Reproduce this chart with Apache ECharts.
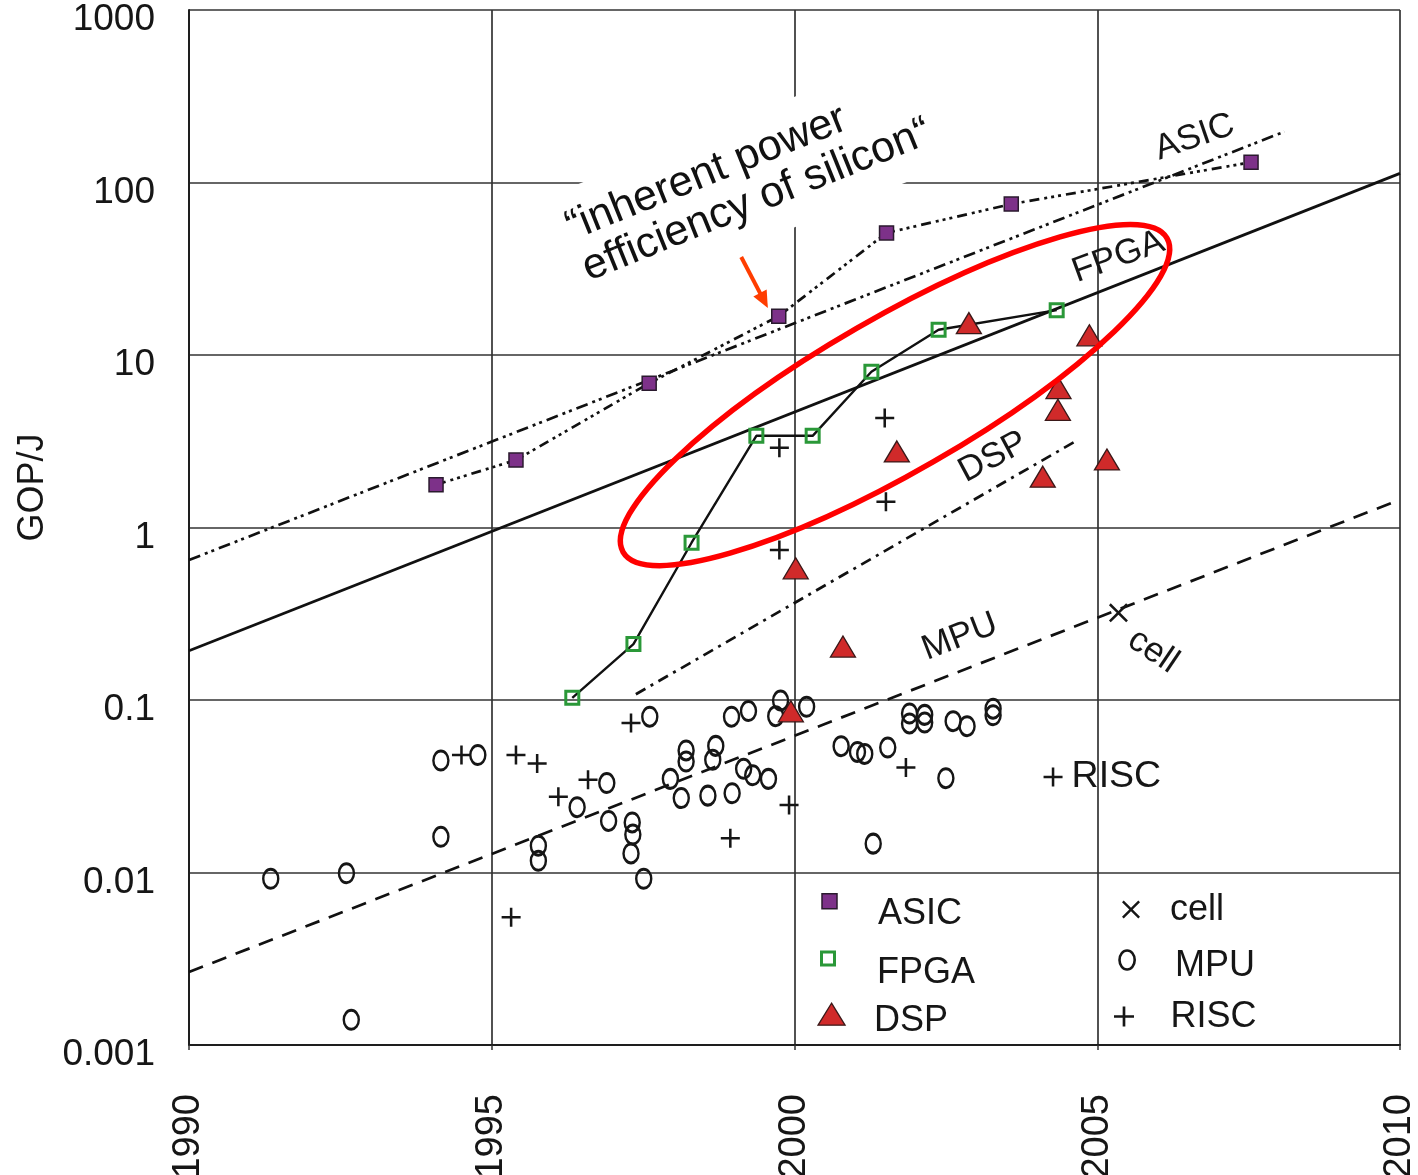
<!DOCTYPE html>
<html>
<head>
<meta charset="utf-8">
<script src="https://cdn.jsdelivr.net/npm/echarts@6/dist/echarts.min.js"></script>
<style>
html,body{margin:0;padding:0;background:#fff;}
#chart{width:1418px;height:1175px;}
</style>
</head>
<body>
<div id="chart"></div>
<script>
// ---------- data ----------
const xTickLabels = ['1990', '1995', '2000', '2005', '2010'];
const yTickLabels = ['0.001', '0.01', '0.1', '1', '10', '100', '1000'];

const asicYears  = [1994.08, 1995.40, 1997.60, 1999.74, 2001.52, 2003.58, 2007.54];
const asicValues = [1.77, 2.46, 6.86, 16.8, 51, 75, 131];

const fpgaYears  = [1996.33, 1997.34, 1998.30, 1999.37, 2000.30, 2001.27, 2002.38, 2004.33];
const fpgaValues = [0.103, 0.211, 0.816, 3.40, 3.40, 8.0, 14.0, 18.2];

const dspYears  = [1999.94, 2000.02, 2000.80, 2001.69, 2002.88, 2004.10, 2004.35, 2004.36, 2004.87, 2005.16];
const dspValues = [0.086, 0.58, 0.204, 2.76, 15.3, 1.97, 4.81, 6.43, 13.0, 2.48];

const mpuYears = [1991.35, 1992.60, 1992.68, 1994.16, 1994.77, 1994.16, 1995.77, 1995.77, 1996.41, 1996.90,
                  1996.93, 1997.32, 1997.33, 1997.30, 1997.51, 1997.61, 1997.95, 1998.13, 1998.21, 1998.21,
                  1998.57, 1998.65, 1998.70, 1998.97, 1998.96, 1999.16, 1999.24, 1999.31, 1999.57, 1999.69,
                  1999.77, 2000.20, 2000.77, 2001.04, 2001.16, 2001.30, 2001.54, 2001.90, 2001.90, 2002.15,
                  2002.15, 2002.50, 2002.62, 2002.85, 2003.28, 2003.28];
const mpuValues = [0.0092, 0.0099, 0.0014, 0.0446, 0.048, 0.0161, 0.0143, 0.0117, 0.0239, 0.033,
                   0.0199, 0.0195, 0.0166, 0.0129, 0.0092, 0.080, 0.0349, 0.027, 0.051, 0.044,
                   0.0279, 0.045, 0.0542, 0.0288, 0.080, 0.0399, 0.0863, 0.0366, 0.0349, 0.0806,
                   0.0993, 0.0914, 0.054, 0.050, 0.0487, 0.0147, 0.053, 0.0835, 0.0731, 0.082,
                   0.074, 0.0352, 0.0754, 0.0705, 0.089, 0.0815];

const riscYears  = [1994.50, 1995.40, 1995.75, 1995.32, 1996.10, 1996.59, 1997.30, 1998.94, 1999.91, 1999.75,
                    1999.75, 2001.49, 2001.51, 2001.84, 2004.27];
const riscValues = [0.048, 0.048, 0.0428, 0.0055, 0.0275, 0.0345, 0.0736, 0.0158, 0.0246, 2.9,
                    0.74, 4.31, 1.41, 0.0406, 0.0358];
const riscLabelIndex = 14;

const cellYears  = [2005.35];
const cellValues = [0.32];

// trend lines (end points)
const asicTrendYears = [1990, 2008.09];    const asicTrendValues = [0.648, 197];
const fpgaTrendYears = [1990, 2010];       const fpgaTrendValues = [0.193, 113];
const dspTrendYears  = [1997.38, 2004.68]; const dspTrendValues  = [0.108, 3.22];
const mpuTrendYears  = [1990, 2010];       const mpuTrendValues  = [0.00265, 1.45];

// annotation anchors in data coordinates
const annotationText = '\u201Cinherent power\nefficiency of silicon\u201C';
const annotationAnchor = [1995.87, 81.5];
const arrowTail = [1999.12, 37.0];
const arrowTip  = [1999.56, 18.7];
const ellipseCenter = [2001.66, 5.86];
const trendLabels = [
  { text: 'ASIC', at: [2006.61, 183],  rot: 19 },
  { text: 'FPGA', at: [2005.35, 37.0], rot: 20 },
  { text: 'DSP',  at: [2003.28, 2.56], rot: 28 },
  { text: 'MPU',  at: [2002.73, 0.232], rot: 21 },
  { text: 'cell', at: [2005.92, 0.192], rot: -34 }
];

// ---------- helpers ----------
const FONT = "'Liberation Sans', Arial, Helvetica, sans-serif";
const INK = '#161616';
const pairs = (xs, ys) => xs.map((x, i) => [x, ys[i]]);
const PLUS = 'path://M7.8,0H10.2V7.8H18V10.2H10.2V18H7.8V10.2H0V7.8H7.8Z';
const CROSS = 'path://M0,1.7L1.7,0L9,7.3L16.3,0L18,1.7L10.7,9L18,16.3L16.3,18L9,10.7L1.7,18L0,16.3L7.3,9Z';
const SQUARE = 'path://M0,0H10V10H0Z';
const TRI = 'path://M13.5,0L27,22L0,22Z';
const OVAL = 'path://M8,0C12.42,0 16,4.48 16,10C16,15.52 12.42,20 8,20C3.58,20 0,15.52 0,10C0,4.48 3.58,0 8,0Z';

const ASIC_FILL = '#7d3189', FPGA_GREEN = '#2a9838', DSP_RED = '#d02a2a';

function lineSeries(name, xs, ys, type, width) {
  return {
    name: name, type: 'line', data: pairs(xs, ys), showSymbol: false, symbol: 'none',
    lineStyle: { color: '#111', width: width, type: type, opacity: 1 }, z: 2, silent: true, animation: false
  };
}

// one legend per entry so that each marker keeps its own size
function legendOne(name, icon, w, h, left, top, itemStyle, padTop) {
  return {
    show: true, data: [name], icon: icon, itemWidth: w, itemHeight: h,
    left: left, top: top, orient: 'vertical', padding: 0, selectedMode: false,
    symbolKeepAspect: true, itemStyle: itemStyle,
    formatter: n => '{t|' + n + '}',
    textStyle: {
      fontSize: 36, fontFamily: FONT, color: INK,
      rich: { t: { fontSize: 36, fontFamily: FONT, color: INK, padding: [padTop, 0, 0, 0] } }
    }
  };
}

const riscData = pairs(riscYears, riscValues).map((p, i) => {
  if (i !== riscLabelIndex) return p;
  return { value: p, label: { show: true, formatter: 'RISC', position: 'right', distance: 9,
           fontSize: 37.5, fontFamily: FONT, color: INK, opacity: 1 } };
});

const option = {
  animation: false,
  backgroundColor: '#ffffff',
  grid: { left: 189, right: 18, top: 10, bottom: 130, containLabel: false, outerBoundsMode: 'none' },
  xAxis: {
    type: 'value', min: 1990, max: 2010, interval: 5,
    axisLine: { show: true, onZero: false, lineStyle: { color: '#1e1e1e', width: 2 } },
    axisTick: { show: true, length: 5, lineStyle: { color: '#333', width: 1.5 } },
    splitLine: { show: true, lineStyle: { color: '#333', width: 1.7 } },
    axisLabel: {
      rotate: 90, margin: 49, fontSize: 38, fontFamily: FONT, color: INK,
      showMinLabel: true, showMaxLabel: true,
      formatter: v => xTickLabels[Math.round((v - 1990) / 5)]
    }
  },
  yAxis: {
    type: 'log', logBase: 10, min: 0.001, max: 1000, splitNumber: 6,
    axisLine: { show: true, lineStyle: { color: '#1e1e1e', width: 2 } },
    axisTick: { show: false },
    minorTick: { show: false },
    splitLine: { show: true, lineStyle: { color: '#333', width: 1.7 } },
    axisLabel: {
      margin: 34, fontSize: 37, fontFamily: FONT, color: INK,
      showMinLabel: true, showMaxLabel: true,
      formatter: v => '{a|' + yTickLabels[Math.round(Math.log10(v)) + 3] + '}',
      rich: { a: { fontSize: 37, fontFamily: FONT, color: INK, padding: [20, 0, 0, 0] } }
    },
    name: 'GOP/J', nameLocation: 'middle', nameGap: 134, nameRotate: 90,
    nameTextStyle: { fontSize: 36, fontFamily: FONT, color: INK, padding: [0, 0, 0, 80] }
  },
  legend: [
    legendOne('ASIC', SQUARE, 87, 15, 821.25, 893, { color: ASIC_FILL, borderColor: '#2a1a2e', borderWidth: 1.5 }, 25.5),
    legendOne('FPGA', SQUARE, 88, 13, 820, 950.5, { color: 'rgba(0,0,0,0)', borderColor: FPGA_GREEN, borderWidth: 3 }, 29),
    legendOne('DSP', TRI, 75, 22, 817.4, 1002.5, { color: DSP_RED, borderColor: '#3a1818', borderWidth: 1.3 }, 13),
    legendOne('cell', CROSS, 68, 18, 1122, 892.5, { color: INK, borderWidth: 0 }, 2),
    legendOne('MPU', OVAL, 86, 19, 1118.2, 948.5, { color: 'rgba(0,0,0,0)', borderColor: INK, borderWidth: 2.6 }, 13),
    legendOne('RISC', PLUS, 83, 20, 1114, 999.5, { color: INK, borderWidth: 0 }, 2)
  ],
  series: [
    lineSeries('MPU trend', mpuTrendYears, mpuTrendValues, [15, 10], 2.7),
    lineSeries('DSP trend', dspTrendYears, dspTrendValues, [11, 6, 3, 6], 2.7),
    lineSeries('FPGA trend', fpgaTrendYears, fpgaTrendValues, 'solid', 2.8),
    lineSeries('ASIC trend', asicTrendYears, asicTrendValues, [12, 5, 3, 4, 3, 5], 2.7),
    lineSeries('ASIC chain', asicYears, asicValues, [10, 5, 3, 4, 3, 4, 3, 5], 2.7),
    lineSeries('FPGA chain', fpgaYears, fpgaValues, 'solid', 2.4),
    {
      name: 'MPU', type: 'scatter', data: pairs(mpuYears, mpuValues), symbol: 'circle', symbolSize: [15, 19],
      itemStyle: { color: 'rgba(0,0,0,0)', borderColor: INK, borderWidth: 2.7, opacity: 1 }, z: 3, silent: true
    },
    {
      name: 'RISC', type: 'scatter', data: riscData, symbol: PLUS, symbolSize: 19,
      itemStyle: { color: INK, opacity: 1 }, z: 3, silent: true
    },
    {
      name: 'cell', type: 'scatter', data: pairs(cellYears, cellValues), symbol: CROSS, symbolSize: 19,
      itemStyle: { color: INK, opacity: 1 }, z: 3, silent: true
    },
    {
      name: 'ASIC', type: 'scatter', data: pairs(asicYears, asicValues), symbol: 'rect', symbolSize: 14,
      itemStyle: { color: ASIC_FILL, borderColor: '#2a1a2e', borderWidth: 1.5, opacity: 1 }, z: 4, silent: true
    },
    {
      name: 'FPGA', type: 'scatter', data: pairs(fpgaYears, fpgaValues), symbol: 'rect', symbolSize: 13,
      itemStyle: { color: 'rgba(0,0,0,0)', borderColor: FPGA_GREEN, borderWidth: 3, opacity: 1 }, z: 4, silent: true
    },
    {
      name: 'DSP', type: 'scatter', data: pairs(dspYears, dspValues), symbol: 'triangle', symbolSize: [25, 21],
      itemStyle: { color: DSP_RED, borderColor: '#3a1818', borderWidth: 1.3, opacity: 1 }, z: 4, silent: true
    }
  ]
};

const chart = echarts.init(document.getElementById('chart'), null, { renderer: 'canvas' });
chart.setOption(option);

// ---------- annotations positioned through the axes ----------
const px = p => chart.convertToPixel({ gridIndex: 0 }, p);
const deg = Math.PI / 180;
const graphics = [];

// red ellipse
const ec = px(ellipseCenter);
graphics.push({
  type: 'ellipse', x: ec[0], y: ec[1], rotation: 30 * deg, silent: true, z: 50,
  shape: { cx: 0, cy: 0, rx: 314, ry: 77 },
  style: { fill: 'none', stroke: '#ff0000', lineWidth: 5.5 }
});

// red arrow
const at = px(arrowTail), ah = px(arrowTip);
const dx = ah[0] - at[0], dy = ah[1] - at[1], len = Math.hypot(dx, dy);
const ux = dx / len, uy = dy / len, nx = -uy, ny = ux;
const headL = 17, headW = 7.5;
graphics.push({
  type: 'line', silent: true, z: 50,
  shape: { x1: at[0], y1: at[1], x2: ah[0] - ux * (headL - 3), y2: ah[1] - uy * (headL - 3) },
  style: { stroke: '#ff3d00', lineWidth: 4 }
});
graphics.push({
  type: 'polygon', silent: true, z: 50,
  shape: { points: [[ah[0], ah[1]],
                    [ah[0] - ux * headL + nx * headW, ah[1] - uy * headL + ny * headW],
                    [ah[0] - ux * headL - nx * headW, ah[1] - uy * headL - ny * headW]] },
  style: { fill: '#ff3d00' }
});

// annotation text with white box
const aa = px(annotationAnchor);
graphics.push({
  type: 'text', x: aa[0], y: aa[1], rotation: 22 * deg, silent: true, z: 60,
  style: {
    text: annotationText, fontSize: 43, fontFamily: FONT, fill: '#111', lineHeight: 44,
    align: 'left', verticalAlign: 'top', backgroundColor: '#ffffff', padding: [16, 10, 17, 10]
  }
});

// in-plot labels
trendLabels.forEach(t => {
  const p = px(t.at);
  graphics.push({
    type: 'text', x: p[0], y: p[1], rotation: t.rot * deg, silent: true, z: 55,
    style: { text: t.text, fontSize: 35, fontFamily: FONT, fill: INK, align: 'center', verticalAlign: 'middle' }
  });
});

chart.setOption({ graphic: graphics });
</script>
</body>
</html>
